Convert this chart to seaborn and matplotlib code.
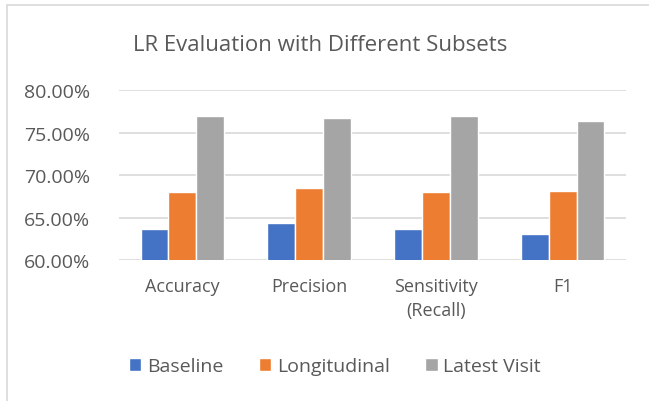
import pandas as pd
import matplotlib.pyplot as plt
import seaborn as sns
from matplotlib.patches import Rectangle
from matplotlib.ticker import FuncFormatter

metrics = ["Accuracy", "Precision", "Sensitivity\n(Recall)", "F1"]
subsets = ["Baseline", "Longitudinal", "Latest Visit"]
baseline = [63.6, 64.35, 63.6, 63.06]
longitudinal = [68.0, 68.5, 68.0, 68.1]
latest_visit = [76.95, 76.7, 76.95, 76.3]
colors = ["#4472c4", "#ed7d31", "#a5a5a5"]


def main():
    df = pd.DataFrame({
        "metric": metrics * 3,
        "subset": [s for s in subsets for _ in metrics],
        "value": baseline + longitudinal + latest_visit,
    })

    sns.set_style("white")
    plt.rcParams["font.family"] = ["Open Sans", "DejaVu Sans"]

    fig = plt.figure(figsize=(6.49, 4.02), dpi=100)
    ax = fig.add_axes([0.1834, 0.3507, 0.7812, 0.4229])

    sns.barplot(data=df, x="metric", y="value", hue="subset",
                palette=colors, width=0.66, gap=0, ax=ax, saturation=1)

    ax.set_ylim(60, 80)
    ax.set_yticks([60, 65, 70, 75, 80])
    ax.yaxis.set_major_formatter(FuncFormatter(lambda v, p: f"{v:.2f}%"))
    ax.grid(axis="y", color="#d9d9d9", linewidth=1.2)
    ax.set_axisbelow(True)
    for s in ax.spines.values():
        s.set_visible(False)
    ax.tick_params(axis="both", length=0, colors="#595959")
    ax.tick_params(axis="y", pad=21, labelsize=14)
    ax.tick_params(axis="x", pad=12, labelsize=13)
    for lbl in ax.get_xticklabels():
        lbl.set_linespacing(1.45)
    ax.set_xlabel("")
    ax.set_ylabel("")

    fig.text(0.494, 0.888, "LR Evaluation with Different Subsets", ha="center",
             va="center", fontsize=16, color="#595959")

    ax.legend(loc="center", bbox_to_anchor=(0.516, 0.087), bbox_transform=fig.transFigure,
              ncol=3, frameon=False, fontsize=14, labelcolor="#595959",
              handlelength=0.65, handleheight=0.65, handletextpad=0.3, columnspacing=1.8)

    # chart frame, cut off on the right and bottom like the source screenshot
    fig.patches.append(Rectangle((0.011, -0.05), 1.05, 1.035, transform=fig.transFigure,
                                 fill=False, edgecolor="#d9d9d9", linewidth=1.2))

    fig.savefig("out.png", dpi=100)


if __name__ == "__main__":
    main()
